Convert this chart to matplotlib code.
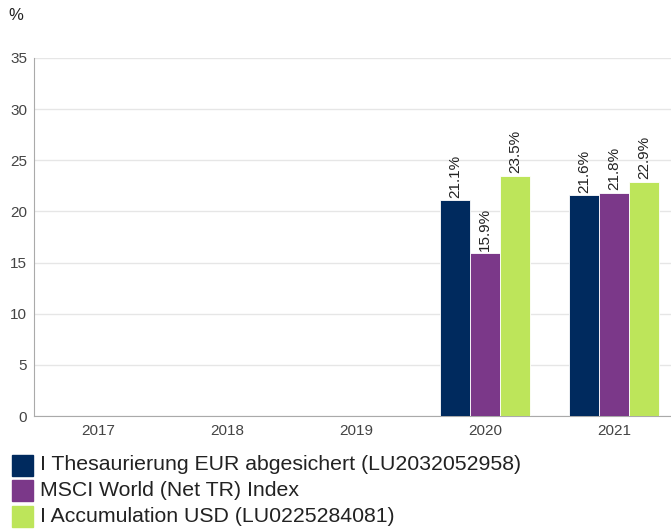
import numpy as np
import matplotlib
matplotlib.use("Agg")
import matplotlib.pyplot as plt
from matplotlib.patches import Rectangle

plt.rcParams['font.family'] = ['Liberation Sans', 'DejaVu Sans']

years = ["2017", "2018", "2019", "2020", "2021"]
series_names = ["I Thesaurierung EUR abgesichert (LU2032052958)",
                "MSCI World (Net TR) Index",
                "I Accumulation USD (LU0225284081)"]
fund_eur = [np.nan, np.nan, np.nan, 21.1, 21.6]
msci = [np.nan, np.nan, np.nan, 15.9, 21.8]
fund_usd = [np.nan, np.nan, np.nan, 23.5, 22.9]
colors = ["#002a5e", "#7b3889", "#bde55a"]

fig = plt.figure(figsize=(6.71, 5.31), dpi=100)
ax = fig.add_axes([34/671, 115/531, 637/671, 358/531])

x = np.arange(len(years))
w = 0.232
for k, vals in enumerate([fund_eur, msci, fund_usd]):
    pos = x + (k - 1) * w
    bars = ax.bar(pos, vals, width=w, color=colors[k], edgecolor="white",
                  linewidth=0.6, zorder=3)
    for xp, v in zip(pos, vals):
        if not np.isnan(v):
            ax.text(xp, v + 0.25, f"{v:.1f}%", rotation=90, ha="center",
                    va="bottom", fontsize=11, color="#222222")

ax.set_xlim(-0.5, 4.44)
ax.set_ylim(0, 35)
ax.set_yticks(range(0, 36, 5))
ax.set_xticks(x)
ax.set_xticklabels(years)
ax.yaxis.grid(True, color="#e6e6e6", linewidth=1, zorder=0)
ax.set_axisbelow(True)
for s in ["top", "right"]:
    ax.spines[s].set_visible(False)
ax.spines["left"].set_color("#aaaaaa")
ax.spines["bottom"].set_color("#aaaaaa")
ax.tick_params(axis="both", length=0, labelsize=11, colors="#444444", pad=6)
ax.tick_params(axis="y", pad=5)

fig.text(8/671, 1 - 15/531, "%", fontsize=12, color="#222222", va="center")

# legend
for k, name in enumerate(series_names):
    yc = 465 + k * 25.5
    fig.patches.append(Rectangle((12/671, 1 - (yc + 10.5)/531), 21/671, 21/531,
                                 color=colors[k], transform=fig.transFigure,
                                 figure=fig))
    fig.text(40/671, 1 - yc/531, name, fontsize=15.3, color="#222222", va="center")

fig.savefig("out.png", dpi=100)
